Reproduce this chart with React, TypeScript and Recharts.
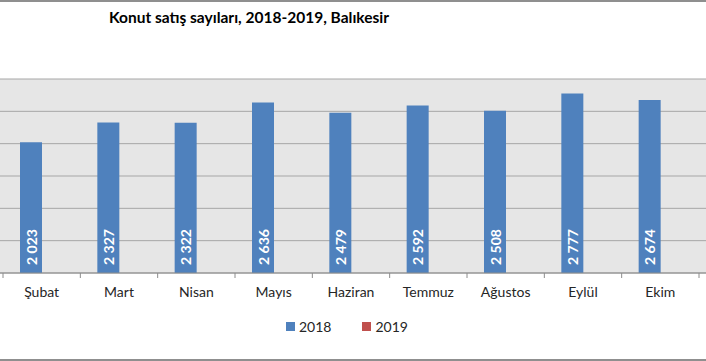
import React from "react";
import {
  BarChart,
  Bar,
  XAxis,
  YAxis,
  CartesianGrid,
  LabelList,
} from "recharts";

const months = ["Şubat", "Mart", "Nisan", "Mayıs", "Haziran", "Temmuz", "Ağustos", "Eylül", "Ekim"];
const sales2018 = [2023, 2327, 2322, 2636, 2479, 2592, 2508, 2777, 2674];
const sales2019: (number | null)[] = [null, null, null, null, null, null, null, null, null];
const yTicks = [0, 500, 1000, 1500, 2000, 2500, 3000];
const seriesNames = ["2018", "2019"];
const seriesColors = ["#4f81bd", "#c0504d"];

const data = months.map((m, i) => ({ month: m, y2018: sales2018[i], y2019: sales2019[i] }));

const FONT = "Lato, 'Open Sans', sans-serif";

const fmt = (v: number) => {
  const s = String(v);
  return s.length > 3 ? s.slice(0, s.length - 3) + " " + s.slice(-3) : s;
};

const MonthTick = (props: any) => {
  const { x, y, payload, index } = props;
  const half = 696 / months.length / 2;
  return (
    <g>
      <line x1={x - half} x2={x - half} y1={y - 8} y2={y - 3} stroke="#8c8c8c" />
      {index === months.length - 1 && (
        <line x1={x + half} x2={x + half} y1={y - 8} y2={y - 3} stroke="#8c8c8c" />
      )}
      <text x={x} y={y + 16} textAnchor="middle" fill="#262626" fontSize={14} fontFamily={FONT}>
        {payload.value}
      </text>
    </g>
  );
};

const BarValue = (props: any) => {
  const { x, y, width, height, value } = props;
  if (value == null) return null;
  const cx = x + width / 2;
  const cy = y + height - 26;
  return (
    <text
      x={cx}
      y={cy}
      transform={`rotate(-90 ${cx} ${cy})`}
      textAnchor="middle"
      dominantBaseline="central"
      fill="#ffffff"
      fontSize={14}
      fontWeight="bold"
      fontFamily={FONT}
    >
      {fmt(value)}
    </text>
  );
};

export default function App() {
  return (
    <div
      style={{
        position: "absolute",
        left: 0,
        top: 0,
        width: 706,
        height: 361,
        background: "#ffffff",
        overflow: "hidden",
      }}
    >
      <div style={{ position: "absolute", left: 0, top: 0, width: 706, height: 2, background: "#8f8f8f" }} />
      <div style={{ position: "absolute", left: 0, top: 359, width: 706, height: 2, background: "#8f8f8f" }} />
      <div
        style={{
          position: "absolute",
          left: 0,
          top: 8,
          width: 498,
          textAlign: "center",
          fontFamily: FONT,
          fontWeight: "bold",
          fontSize: 15.5,
          color: "#000000",
        }}
      >
        Konut satış sayıları, 2018-2019, Balıkesir
      </div>
      <div style={{ position: "absolute", left: 0, top: 79, width: 706, height: 194, background: "#e6e6e6" }} />
      <div style={{ position: "absolute", left: 0, top: 0 }}>
        <BarChart
          width={706}
          height={361}
          data={data}
          margin={{ top: 79, right: 0, bottom: 0, left: 0 }}
          barGap={0}
        >
          <CartesianGrid vertical={false} stroke="#a6a6a6" horizontalValues={yTicks} />
          <YAxis hide domain={[0, 3000]} ticks={yTicks} width={0} />
          <XAxis
            dataKey="month"
            padding={{ left: 3, right: 7 }}
            axisLine={{ stroke: "#8c8c8c" }}
            tickLine={false}
            tick={<MonthTick />}
            interval={0}
            height={88}
          />
          <Bar dataKey="y2018" name={seriesNames[0]} fill={seriesColors[0]} barSize={22} isAnimationActive={false}>
            <LabelList dataKey="y2018" content={<BarValue />} />
          </Bar>
          <Bar dataKey="y2019" name={seriesNames[1]} fill={seriesColors[1]} barSize={22} isAnimationActive={false} />
        </BarChart>
      </div>
      <div
        style={{
          position: "absolute",
          left: 286,
          top: 318,
          display: "flex",
          fontFamily: FONT,
          fontSize: 14,
          color: "#262626",
        }}
      >
        {seriesNames.map((n, i) => (
          <div key={n} style={{ display: "flex", alignItems: "center", marginRight: 31 }}>
            <span style={{ width: 9, height: 9, background: seriesColors[i], marginRight: 4 }} />
            <span>{n}</span>
          </div>
        ))}
      </div>
    </div>
  );
}
